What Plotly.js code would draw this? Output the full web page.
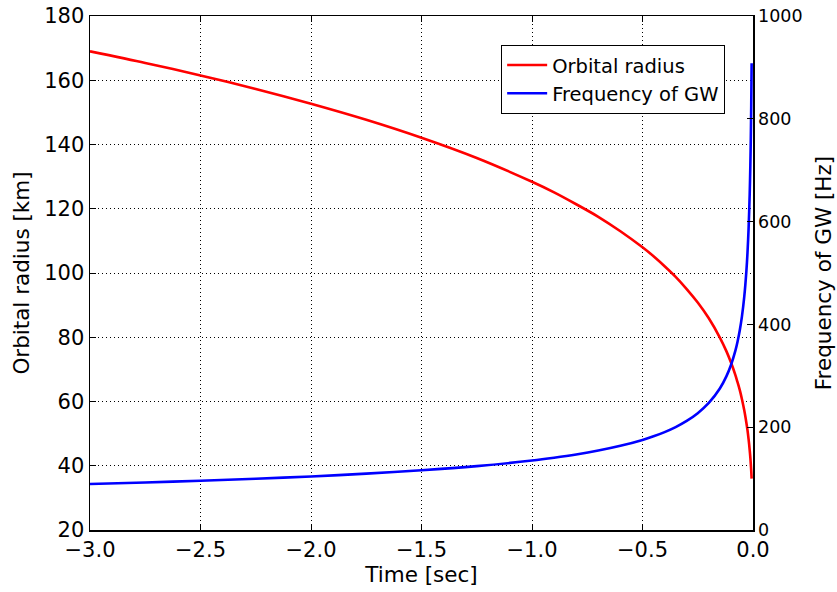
<!DOCTYPE html>
<html>
<head>
<meta charset="utf-8">
<script src="https://cdn.plot.ly/plotly-3.0.1.min.js"></script>
<style>html,body{margin:0;padding:0;background:#fff;}#chart{width:837px;height:592px;}</style>
</head>
<body>
<div id="chart"></div>
<script>
// Time before merger [sec]
const timeSec = [-3, -2.75, -2.5, -2.25, -2, -1.75, -1.5, -1.25, -1, -0.9, -0.8, -0.7, -0.6, -0.5, -0.45, -0.4, -0.35, -0.3, -0.25, -0.2, -0.15, -0.12, -0.1, -0.08, -0.07, -0.06, -0.05, -0.04, -0.03, -0.025, -0.02, -0.015, -0.012, -0.01, -0.008, -0.0062];
// Orbital radius [km]
const orbitalRadius = [169, 165.4, 161.5, 157.3, 152.7, 147.7, 142.1, 135.8, 128.4, 125.1, 121.4, 117.5, 113.0, 108.0, 105.2, 102.1, 98.8, 95.0, 90.8, 85.9, 79.9, 75.6, 72.2, 68.3, 66.0, 63.6, 60.7, 57.4, 53.4, 51.1, 48.3, 44.9, 42.5, 40.6, 38.4, 36.0];
// Frequency of GW [Hz]
const gwFrequency = [89.5, 92.5, 95.8, 99.7, 104.2, 109.6, 116.1, 124.3, 135.1, 140.6, 146.9, 154.5, 163.7, 175.2, 182.3, 190.5, 200.3, 212.2, 227.3, 247.1, 275.2, 299.3, 320.4, 348.4, 366.3, 388.1, 415.6, 451.9, 503.3, 538.9, 585.9, 652.7, 709.6, 759.9, 826, 908];

const xTicks = [-3, -2.5, -2, -1.5, -1, -0.5, 0];
const yLeftTicks = [20, 40, 60, 80, 100, 120, 140, 160, 180];
const yRightTicks = [0, 200, 400, 600, 800, 1000];

const font = 'DejaVu Sans, sans-serif';

const traces = [
  {x: timeSec, y: orbitalRadius, name: 'Orbital radius', mode: 'lines', line: {color: '#ff0000', width: 2.6, shape: 'spline', smoothing: 0.8}, yaxis: 'y'},
  {x: timeSec, y: gwFrequency, name: 'Frequency of GW', mode: 'lines', line: {color: '#0000ff', width: 2.6, shape: 'spline', smoothing: 0.8}, yaxis: 'y2'}
];

const layout = {
  width: 837, height: 592,
  margin: {l: 90, r: 84, t: 16, b: 62},
  paper_bgcolor: '#fff', plot_bgcolor: '#fff',
  font: {family: font, color: '#000', size: 19},
  showlegend: true,
  legend: {x: 0.958, y: 0.944, xanchor: 'right', yanchor: 'top', bgcolor: '#fff', bordercolor: '#000', borderwidth: 1, font: {family: font, size: 19.5}, tracegroupgap: 0, itemwidth: 40},
  xaxis: {
    range: [-3, 0], tickvals: xTicks, ticktext: xTicks.map(v => v === 0 ? '0.0' : '\u2212' + Math.abs(v).toFixed(1)),
    showgrid: true, gridcolor: '#000', griddash: '1px,3px', gridwidth: 1,
    showline: true, linecolor: '#000', linewidth: 1.5, mirror: 'ticks',
    ticks: 'inside', ticklen: 6, tickcolor: '#000',
    zeroline: false, tickfont: {size: 21},
    title: {text: 'Time [sec]', font: {size: 21.5}, standoff: 3}
  },
  yaxis: {
    range: [20, 180], tickvals: yLeftTicks,
    showgrid: true, gridcolor: '#000', griddash: '1px,3px', gridwidth: 1,
    showline: true, linecolor: '#000', linewidth: 1.5,
    ticks: 'inside', ticklen: 6, tickcolor: '#000',
    zeroline: false, tickfont: {size: 21},
    title: {text: 'Orbital radius [km]', font: {size: 21.5}, standoff: 8}
  },
  yaxis2: {
    range: [0, 1000], tickvals: yRightTicks, overlaying: 'y', side: 'right',
    showgrid: false, showline: true, linecolor: '#000', linewidth: 1.5,
    ticks: 'inside', ticklen: 6, tickcolor: '#000',
    zeroline: false, tickfont: {size: 17.5},
    title: {text: 'Frequency of GW [Hz]', font: {size: 21.5}, standoff: 14}
  }
};

Plotly.newPlot('chart', traces, layout, {displayModeBar: false, staticPlot: true});
</script>
</body>
</html>
